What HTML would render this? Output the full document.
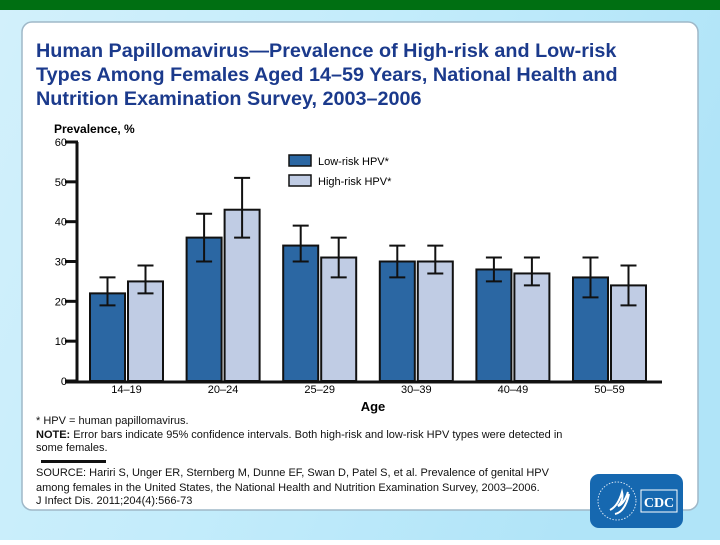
<!DOCTYPE html>
<html><head><meta charset="utf-8"><style>
body{margin:0;width:720px;height:540px;overflow:hidden;font-family:"Liberation Sans",sans-serif;}
</style></head><body>
<svg width="720" height="540" viewBox="0 0 720 540" xmlns="http://www.w3.org/2000/svg">
<defs><linearGradient id="bg" x1="0" y1="0" x2="1" y2="0.3"><stop offset="0" stop-color="#d2f0fb"/><stop offset="0.5" stop-color="#c3ecfb"/><stop offset="1" stop-color="#b0e4f8"/></linearGradient></defs>
<rect x="0" y="0" width="720" height="540" fill="url(#bg)"/>
<rect x="0" y="0" width="720" height="10" fill="#006f12"/>
<rect x="22" y="22" width="676" height="488" rx="10" fill="#fff" stroke="#9fb8c8" stroke-width="1.5"/>
<g font-weight="bold" font-size="19.8" fill="#1b3a8c">
<text x="36" y="57">Human Papillomavirus—Prevalence of High-risk and Low-risk</text>
<text x="36" y="81">Types Among Females Aged 14–59 Years, National Health and</text>
<text x="36" y="105">Nutrition Examination Survey, 2003–2006</text>
</g>
<text x="54" y="133" font-size="12" font-weight="bold">Prevalence, %</text>
<g id="chart"></g>
<g>
<rect x="289" y="155" width="22" height="11" fill="#2b67a3" stroke="#111" stroke-width="1.5"/>
<text x="318" y="165" font-size="11">Low-risk HPV*</text>
<rect x="289" y="175" width="22" height="11" fill="#c0cce4" stroke="#111" stroke-width="1.5"/>
<text x="318" y="185" font-size="11">High-risk HPV*</text>
</g>
<text x="373" y="411" font-size="13" font-weight="bold" text-anchor="middle">Age</text>
<g font-size="11" fill="#111">
<text x="36" y="424">* HPV = human papillomavirus.</text>
<text x="36" y="438"><tspan font-weight="bold">NOTE:</tspan> Error bars indicate 95% confidence intervals. Both high-risk and low-risk HPV types were detected in</text>
<text x="36" y="451">some females.</text>
<rect x="41" y="460" width="65" height="3" fill="#111"/>
<text x="36" y="476">SOURCE: Hariri S, Unger ER, Sternberg M, Dunne EF, Swan D, Patel S, et al. Prevalence of genital HPV</text>
<text x="36" y="491">among females in the United States, the National Health and Nutrition Examination Survey, 2003–2006.</text>
<text x="36" y="504">J Infect Dis. 2011;204(4):566-73</text>
</g>
<g>
<rect x="590" y="474" width="93" height="54" rx="9" fill="#1668b0"/>
<circle cx="617" cy="501" r="19" fill="none" stroke="#cfe0f2" stroke-width="1" stroke-dasharray="1.5 1.5"/>
<path d="M610 510 q8 -4 12 -18 q2 8 -4 14 q6 -2 10 -14 M615 514 q10 -2 14 -20" fill="none" stroke="#fff" stroke-width="2"/>
<rect x="641" y="490" width="36" height="22" fill="none" stroke="#fff" stroke-width="1"/>
<text x="659" y="507" font-family="Liberation Serif,serif" font-weight="bold" font-size="14" fill="#fff" text-anchor="middle">CDC</text>
</g>
</svg>
<script>
const categories=["14–19","20–24","25–29","30–39","40–49","50–59"];
const lowValues=[22,36,34,30,28,26];
const highValues=[25,43,31,30,27,24];
const lowLo=[19,30,30,26,25,21];
const lowHi=[26,42,39,34,31,31];
const highLo=[22,36,26,27,24,19];
const highHi=[29,51,36,34,31,29];
const yTicks=[0,10,20,30,40,50,60];
const NS="http://www.w3.org/2000/svg";
const g=document.getElementById('chart');
const y=v=>381-v*(239/60);
const x0=90,pitch=96.6,bw=35,gap=3;
const gx=i=>x0+i*pitch;
function mk(t,a){const e=document.createElementNS(NS,t);for(const k in a)e.setAttribute(k,a[k]);g.appendChild(e);return e;}
yTicks.forEach(t=>{
 const l=mk('line',{x1:65,x2:78,y1:y(t),y2:y(t),stroke:'#111','stroke-width':3});
 
 
 const tx=mk('text',{x:67,y:y(t)+4,'font-size':11,'text-anchor':'end'});
 tx.textContent=t;
 
 
});
function bar(xp,v,lo,hi,fill,name){
 const r=mk('rect',{x:xp,y:y(v),width:bw,height:y(0)-y(v),fill:fill,stroke:'#111','stroke-width':2});
 
 
 const cx=xp+bw/2;
 const e=mk('path',{d:`M${cx} ${y(lo)}V${y(hi)}M${cx-8} ${y(lo)}H${cx+8}M${cx-8} ${y(hi)}H${cx+8}`,stroke:'#111','stroke-width':2,fill:'none'});
 
 
}
categories.forEach((c,i)=>{
 bar(gx(i),lowValues[i],lowLo[i],lowHi[i],'#2b67a3','bar-low-'+c);
 bar(gx(i)+bw+gap,highValues[i],highLo[i],highHi[i],'#c0cce4','bar-high-'+c);
 const t=mk('text',{x:gx(i)+bw+gap/2,y:393,'font-size':11,'text-anchor':'middle'});
 t.textContent=c;
 
 
});
const ax=mk('path',{d:'M77 142V382M65 382H662',stroke:'#111','stroke-width':3,fill:'none'});


</script>
</body></html>
